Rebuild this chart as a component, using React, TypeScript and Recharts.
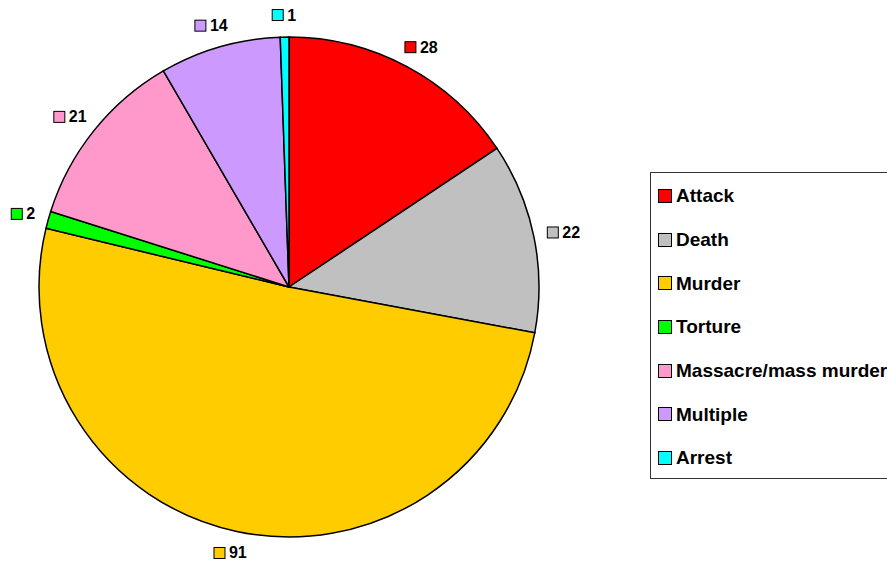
import { PieChart, Pie, Cell, Legend } from 'recharts';

const categories = ['Attack', 'Death', 'Murder', 'Torture', 'Massacre/mass murder', 'Multiple', 'Arrest'];
const counts = [28, 22, 91, 2, 21, 14, 1];
const colors = ['#FF0000', '#C0C0C0', '#FFCC00', '#00FF00', '#FF99CC', '#CC99FF', '#00FFFF'];

const data = categories.map((name, i) => ({ name, value: counts[i] }));

const RAD = Math.PI / 180;
const FONT = 'Arial, "Liberation Sans", Helvetica, sans-serif';

// square + bold number, pushed outside the rim so the box's near edge keeps a small gap
function SliceLabel(props: any) {
  const { cx, cy, midAngle, outerRadius, value, index } = props;
  const ux = Math.cos(-midAngle * RAD);
  const uy = Math.sin(-midAngle * RAD);
  const txt = String(value);
  const w = 11 + 4 + txt.length * 8.9;
  const h = 16;
  const r = outerRadius + 14;
  const x = cx + r * ux + (w / 2) * ux;
  const y = cy + r * uy + (h / 2) * uy;
  const left = x - w / 2;
  return (
    <g>
      <rect x={left} y={y - 5.5} width={11} height={11} fill={colors[index]} stroke="#000" strokeWidth={1} />
      <text x={left + 15} y={y} dominantBaseline="central" fontFamily={FONT} fontWeight="bold" fontSize={16} fill="#000">
        {txt}
      </text>
    </g>
  );
}

function LegendBox() {
  return (
    <div style={{ width: 250, height: 307, border: '1px solid #333', boxSizing: 'border-box', paddingTop: 1, fontFamily: FONT }}>
      {categories.map((name, i) => (
        <div key={name} style={{ display: 'flex', alignItems: 'center', height: 43.7, paddingLeft: 7 }}>
          <span style={{ display: 'inline-block', width: 12, height: 12, background: colors[i], border: '1px solid #000', marginRight: 4 }} />
          <span style={{ fontWeight: 'bold', fontSize: 19, color: '#000', whiteSpace: 'nowrap', lineHeight: '19px' }}>{name}</span>
        </div>
      ))}
    </div>
  );
}

export default function App() {
  return (
    <div style={{ position: 'absolute', left: 0, top: 0, width: 887, height: 562, background: '#fff', overflow: 'hidden' }}>
      <PieChart width={887} height={562} margin={{ top: 0, right: 0, bottom: 0, left: 0 }}>
        <Pie
          data={data}
          dataKey="value"
          nameKey="name"
          cx={289}
          cy={287}
          outerRadius={250}
          startAngle={90}
          endAngle={-270}
          stroke="#000"
          strokeWidth={1.5}
          label={SliceLabel}
          labelLine={false}
          isAnimationActive={false}
        >
          {data.map((d, i) => (
            <Cell key={d.name} fill={colors[i]} />
          ))}
        </Pie>
        <Legend content={<LegendBox />} wrapperStyle={{ position: 'absolute', left: 650, top: 172, width: 250 }} />
      </PieChart>
    </div>
  );
}
